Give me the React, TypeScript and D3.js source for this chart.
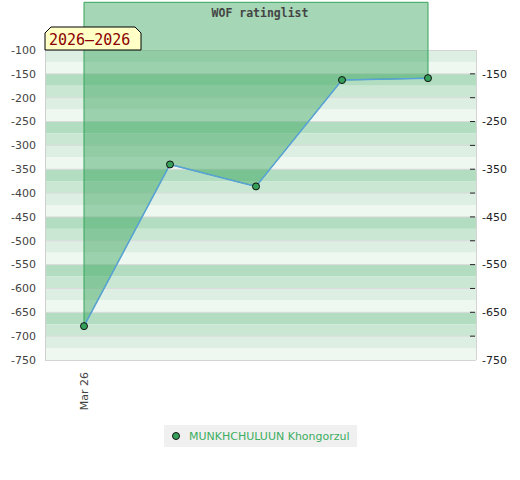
import React from "react";
import * as d3 from "d3";

const title = "WOF ratinglist";
const periodLabel = "2026–2026";
const playerName = "MUNKHCHULUUN Khongorzul";
const xLabels = ["Mar 26", "", "", "", ""];
const ratings = [-679, -340, -386, -163, -159];
const leftTicks = d3.range(-100, -751, -50);
const rightTickMarks = d3.range(-150, -701, -50);
const rightLabels = [-150, -250, -350, -450, -550, -650, -750];
const bandColors = ["#b2ddc1", "#c9e7d3", "#ddeee3", "#eff7f1"];

export default function App() {
  const W = 520;
  const H = 480;
  const left = 45;
  const right = 476;
  const top = 50;
  const bottom = 360;

  const y = d3.scaleLinear().domain([-100, -750]).range([top, bottom]);
  const x = d3.scaleLinear().domain([0, ratings.length - 1]).range([84, 428]);

  const bands = d3.range(-100, -750, -25).map((v) => ({
    v,
    color: bandColors[(((-v - 50) / 25) % 4 + 4) % 4],
  }));

  const pts = ratings.map((r, i) => [x(i), y(r)] as [number, number]);
  const area = d3
    .area<[number, number]>()
    .x((d) => d[0])
    .y0(y(0))
    .y1((d) => d[1]);
  const areaPath = area(pts) || "";
  const line = d3.line<[number, number]>()(pts) || "";

  const font = "'DejaVu Sans', sans-serif";
  const mono = "'DejaVu Sans Mono', monospace";

  // tooltip box
  const bx0 = 45, bx1 = 141, by0 = 27, by1 = 50, c = 6;
  const boxPath = `M${bx0},${by1} L${bx0},${by0 + c} L${bx0 + c},${by0} L${bx1 - c},${by0} L${bx1},${by0 + c} L${bx1},${by1} Z`;

  return (
    <div style={{ position: "absolute", left: 0, top: 0 }}>
      <svg width={W} height={H} style={{ display: "block", background: "#fff" }}>
        {/* bands */}
        {bands.map((b) => (
          <rect
            key={b.v}
            x={left}
            y={y(b.v)}
            width={right - left}
            height={y(b.v - 25) - y(b.v)}
            fill={b.color}
          />
        ))}
        {/* grid */}
        {rightTickMarks.map((v) => (
          <line key={"g" + v} x1={left} x2={right} y1={y(v)} y2={y(v)} stroke="#dadada" strokeWidth={1} />
        ))}
        {/* frame */}
        <line x1={left} x2={right} y1={top + 0.5} y2={top + 0.5} stroke="#d4d4d4" />
        <line x1={right + 0.5} x2={right + 0.5} y1={top} y2={bottom} stroke="#d4d4d4" />
        <line x1={left} x2={right} y1={bottom + 0.5} y2={bottom + 0.5} stroke="#d4d4d4" />
        <line x1={left + 0.5} x2={left + 0.5} y1={top} y2={bottom + 1} stroke="#d0d0d0" />

        {/* area */}
        <path d={areaPath} fill="rgb(46,160,83)" fillOpacity={0.43} stroke="#34a55a" strokeWidth={1} />
        {/* line */}
        <path d={line} fill="none" stroke="#5aa2d8" strokeWidth={1.5} />
        {pts.map((p, i) => (
          <circle key={i} cx={p[0]} cy={p[1]} r={3.5} fill="#35a05a" stroke="#111" strokeWidth={1} />
        ))}

        {/* left axis labels */}
        {leftTicks.map((v) => (
          <text key={"l" + v} x={36} y={y(v)} dy="0.35em" textAnchor="end" fontFamily={font} fontSize={11} fill="#444">
            {v}
          </text>
        ))}
        {/* right axis */}
        {rightTickMarks.map((v) => (
          <line key={"rt" + v} x1={470} x2={475} y1={y(v)} y2={y(v)} stroke="#222" strokeWidth={1} />
        ))}
        {rightLabels.map((v) => (
          <text key={"r" + v} x={482} y={y(v)} dy="0.35em" textAnchor="start" fontFamily={font} fontSize={11} fill="#222">
            {v}
          </text>
        ))}
        {/* x labels */}
        {xLabels.map((l, i) =>
          l ? (
            <text
              key={"x" + i}
              transform={`translate(${x(i) + 4},372) rotate(-90)`}
              textAnchor="end"
              fontFamily={font}
              fontSize={11}
              fill="#444"
            >
              {l}
            </text>
          ) : null
        )}

        {/* title */}
        <text x={260} y={17} textAnchor="middle" fontFamily={mono} fontWeight="bold" fontSize={11.5} fill="#444">
          {title}
        </text>

        {/* period box */}
        <path d={boxPath} fill="#ffffc6" stroke="#000" strokeWidth={1} />
        <text x={49} y={45} fontFamily={mono} fontSize={15} fill="#8b0000">
          {periodLabel}
        </text>

        {/* legend */}
        <rect x={164} y={425} width={193} height={22} fill="#f0f0f0" />
        <circle cx={176} cy={436} r={3.5} fill="#35a05a" stroke="#111" strokeWidth={1} />
        <text x={189} y={440} fontFamily={font} fontSize={11} fill="#3cae5f">
          {playerName}
        </text>
      </svg>
    </div>
  );
}
